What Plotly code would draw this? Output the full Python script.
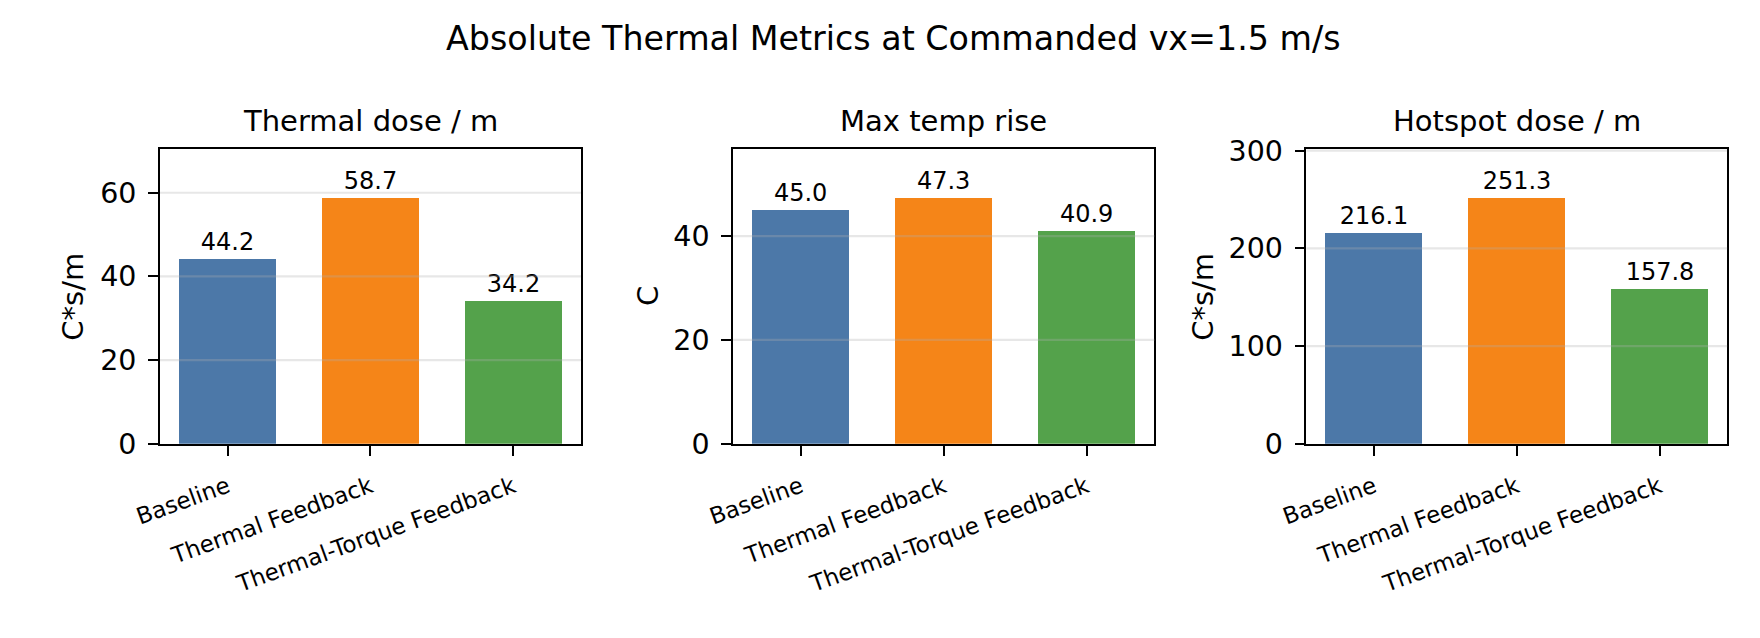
import plotly.graph_objects as go

categories = ["Baseline", "Thermal Feedback", "Thermal-Torque Feedback"]
thermal_dose = [44.2, 58.7, 34.2]
max_temp_rise = [45.0, 47.3, 40.9]
hotspot_dose = [216.1, 251.3, 157.8]
panel_titles = ["Thermal dose / m", "Max temp rise", "Hotspot dose / m"]
y_titles = ["C*s/m", "C", "C*s/m"]
y_dticks = [20, 20, 100]
colors = ["#4c78a8", "#f58518", "#54a24b"]
main_title = "Absolute Thermal Metrics at Commanded vx=1.5 m/s"

W, H = 1760, 638
FONT = "DejaVu Sans"
series = [thermal_dose, max_temp_rise, hotspot_dose]

# axes boxes in pixels (left, right)
x_px = [(136.0, 563.3), (717.7, 1145.3), (1299.7, 1726.7)]
y_top, y_bot = 142.0, 451.7
ytitle_x = [48, 632, 1195]
LW = 2.2

fig = go.Figure()
shapes = []
annotations = []
for i, vals in enumerate(series):
    n = "" if i == 0 else str(i + 1)
    fig.add_trace(go.Bar(
        x=categories, y=vals, marker=dict(color=colors, line=dict(width=0)),
        width=0.68, xaxis="x" + n, yaxis="y" + n,
        text=[f"{v:.1f}" for v in vals], textposition="outside",
        textfont=dict(size=24, color="black", family=FONT),
        constraintext="none", cliponaxis=False, showlegend=False,
    ))
    ymax = max(vals) * 1.2
    dom_x = [x_px[i][0] / W, x_px[i][1] / W]
    dom_y = [1 - y_bot / H, 1 - y_top / H]
    fig.update_layout(**{
        "xaxis" + n: dict(
            domain=dom_x, anchor="y" + n, range=[-0.474, 2.474],
            showline=True, linecolor="black", linewidth=LW, mirror=True,
            ticks="outside", ticklen=9.7, tickwidth=LW, tickcolor="black",
            tickangle=-20, tickfont=dict(size=23, color="black", family=FONT),
            ticklabelstandoff=9,
            showgrid=False, zeroline=False,
        ),
        "yaxis" + n: dict(
            domain=dom_y, anchor="x" + n, range=[0, ymax], dtick=y_dticks[i],
            showline=True, linecolor="black", linewidth=LW, mirror=True,
            ticks="outside", ticklen=9.7, tickwidth=LW, tickcolor="black",
            tickfont=dict(size=28.5, color="black", family=FONT),
            ticklabelstandoff=6,
            showgrid=False, zeroline=False,
        ),
    })
    t = y_dticks[i]
    v = t
    while v < ymax:
        shapes.append(dict(type="line", xref="x" + n + " domain", yref="y" + n,
                           x0=0, x1=1, y0=v, y1=v, layer="above",
                           line=dict(color="rgba(176,176,176,0.3)", width=LW)))
        v += t
    annotations.append(dict(
        text=panel_titles[i], x=(x_px[i][0] + x_px[i][1]) / 2 / W, y=1 - 112 / H,
        xref="paper", yref="paper", xanchor="center", yanchor="middle",
        showarrow=False, font=dict(size=29, color="black", family=FONT)))
    annotations.append(dict(
        text=y_titles[i], x=ytitle_x[i] / W, y=1 - (y_top + y_bot) / 2 / H,
        xref="paper", yref="paper", xanchor="center", yanchor="middle",
        textangle=-90, showarrow=False,
        font=dict(size=29, color="black", family=FONT)))

annotations.append(dict(
    text=main_title, x=0.5, y=1 - 26 / H, xref="paper", yref="paper",
    xanchor="center", yanchor="middle", showarrow=False,
    font=dict(size=33.3, color="black", family=FONT)))

fig.update_layout(
    width=W, height=H, margin=dict(l=0, r=0, t=0, b=0),
    paper_bgcolor="white", plot_bgcolor="white",
    font=dict(family=FONT, color="black"),
    shapes=shapes, annotations=annotations, bargap=0,
)
fig.write_html("out.html")
